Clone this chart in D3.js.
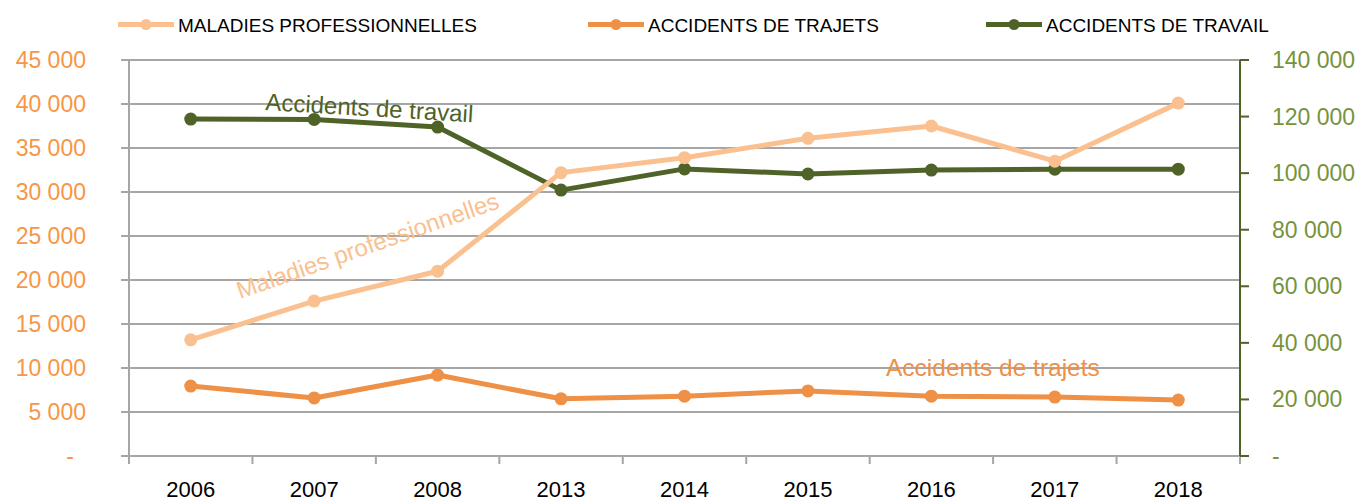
<!DOCTYPE html>
<html><head><meta charset="utf-8">
<script src="https://cdn.jsdelivr.net/npm/d3@7"></script>
<style>
html,body{margin:0;padding:0;background:#fff;}
svg{display:block;font-family:"Liberation Sans",Arial,sans-serif;}
</style></head>
<body><svg id="c" width="1360" height="502"></svg>
<script>
const categories = ["2006","2007","2008","2013","2014","2015","2016","2017","2018"];
const maladies = [13200,17600,21000,32200,33900,36100,37500,33500,40100];
const trajets = [7950,6600,9200,6500,6800,7400,6800,6700,6350];
const travail = [119100,119000,116300,94000,101500,99700,101100,101400,101400];
const leftTicks = [0,5000,10000,15000,20000,25000,30000,35000,40000,45000];
const rightTicks = [0,20000,40000,60000,80000,100000,120000,140000];
const seriesNames = ["MALADIES PROFESSIONNELLES","ACCIDENTS DE TRAJETS","ACCIDENTS DE TRAVAIL"];
const annotations = ["Maladies professionnelles","Accidents de trajets","Accidents de travail"];

const colMal = "#FAC090", colTraj = "#EE9046", colTrav = "#4F6228";
const svg = d3.select("#c");
const L = 129, R = 1240, T = 60, B = 456;

const x = d3.scaleBand().domain(categories).range([L, R]);
const yL = d3.scaleLinear().domain([0,45000]).range([B, T]);
const yR = d3.scaleLinear().domain([0,140000]).range([B, T]);
const fmt = v => v === 0 ? "-" : d3.format(",")(v).replace(/,/g, " ");

// gridlines
svg.append("g").selectAll("line").data(leftTicks).join("line")
  .attr("x1", L - 8).attr("x2", R).attr("y1", d => yL(d)).attr("y2", d => yL(d))
  .attr("stroke", "#A6A6A6").attr("stroke-width", 2);

// left axis line
svg.append("line").attr("x1", L).attr("x2", L).attr("y1", T).attr("y2", B + 8)
  .attr("stroke", "#A6A6A6").attr("stroke-width", 2);

// bottom ticks
const bounds = categories.map(c => x(c)).concat([R]);
svg.append("g").selectAll("line").data(bounds).join("line")
  .attr("x1", d => d).attr("x2", d => d).attr("y1", B).attr("y2", B + 8)
  .attr("stroke", "#A6A6A6").attr("stroke-width", 2);

// right axis
svg.append("line").attr("x1", R).attr("x2", R).attr("y1", T).attr("y2", B)
  .attr("stroke", colTrav).attr("stroke-width", 2);
svg.append("g").selectAll("line").data(rightTicks).join("line")
  .attr("x1", R).attr("x2", R + 9).attr("y1", d => yR(d)).attr("y2", d => yR(d))
  .attr("stroke", colTrav).attr("stroke-width", 2);

// left labels
svg.append("g").selectAll("text").data(leftTicks).join("text")
  .attr("x", d => d === 0 ? 74 : 86).attr("y", d => yL(d)).attr("dy", "0.35em")
  .attr("text-anchor", "end").attr("font-size", 23).attr("fill", "#F79646")
  .text(fmt);

// right labels
svg.append("g").selectAll("text").data(rightTicks).join("text")
  .attr("x", 1272).attr("y", d => yR(d)).attr("dy", "0.35em")
  .attr("text-anchor", "start").attr("font-size", 23).attr("fill", "#77933C")
  .text(fmt);

// x labels
svg.append("g").selectAll("text").data(categories).join("text")
  .attr("x", d => x(d) + x.bandwidth()/2).attr("y", 496.5)
  .attr("text-anchor", "middle").attr("font-size", 22).attr("fill", "#000")
  .text(d => d);

function drawSeries(vals, y, col) {
  const g = svg.append("g");
  const line = d3.line().x((d,i) => x(categories[i]) + x.bandwidth()/2).y(d => y(d));
  g.append("path").attr("d", line(vals)).attr("fill", "none")
    .attr("stroke", col).attr("stroke-width", 5).attr("stroke-linejoin", "round");
  g.selectAll("circle").data(vals).join("circle")
    .attr("cx", (d,i) => x(categories[i]) + x.bandwidth()/2).attr("cy", d => y(d))
    .attr("r", 6.5).attr("fill", col);
}
drawSeries(travail, yR, colTrav);
drawSeries(maladies, yL, colMal);
drawSeries(trajets, yL, colTraj);

// annotations
svg.append("text").attr("transform", "translate(240,299) rotate(-19.3)")
  .attr("font-size", 24).attr("fill", colMal).text(annotations[0]);
svg.append("text").attr("transform", "translate(886,376)")
  .attr("font-size", 24.5).attr("fill", colTraj).text(annotations[1]);
svg.append("text").attr("transform", "translate(265,110) rotate(3.4)")
  .attr("font-size", 24).attr("fill", colTrav).text(annotations[2]);

// legend
const legX = [118, 588, 986];
const legCols = [colMal, colTraj, colTrav];
const lg = svg.append("g");
seriesNames.forEach((n, i) => {
  const gx = legX[i];
  lg.append("line").attr("x1", gx).attr("x2", gx + 56).attr("y1", 24.5).attr("y2", 24.5)
    .attr("stroke", legCols[i]).attr("stroke-width", 5);
  lg.append("circle").attr("cx", gx + 28).attr("cy", 24.5).attr("r", 5.5).attr("fill", legCols[i]);
  lg.append("text").attr("x", gx + 60).attr("y", 31.5).attr("font-size", 19)
    .attr("fill", "#000").text(n);
});
</script></body></html>
